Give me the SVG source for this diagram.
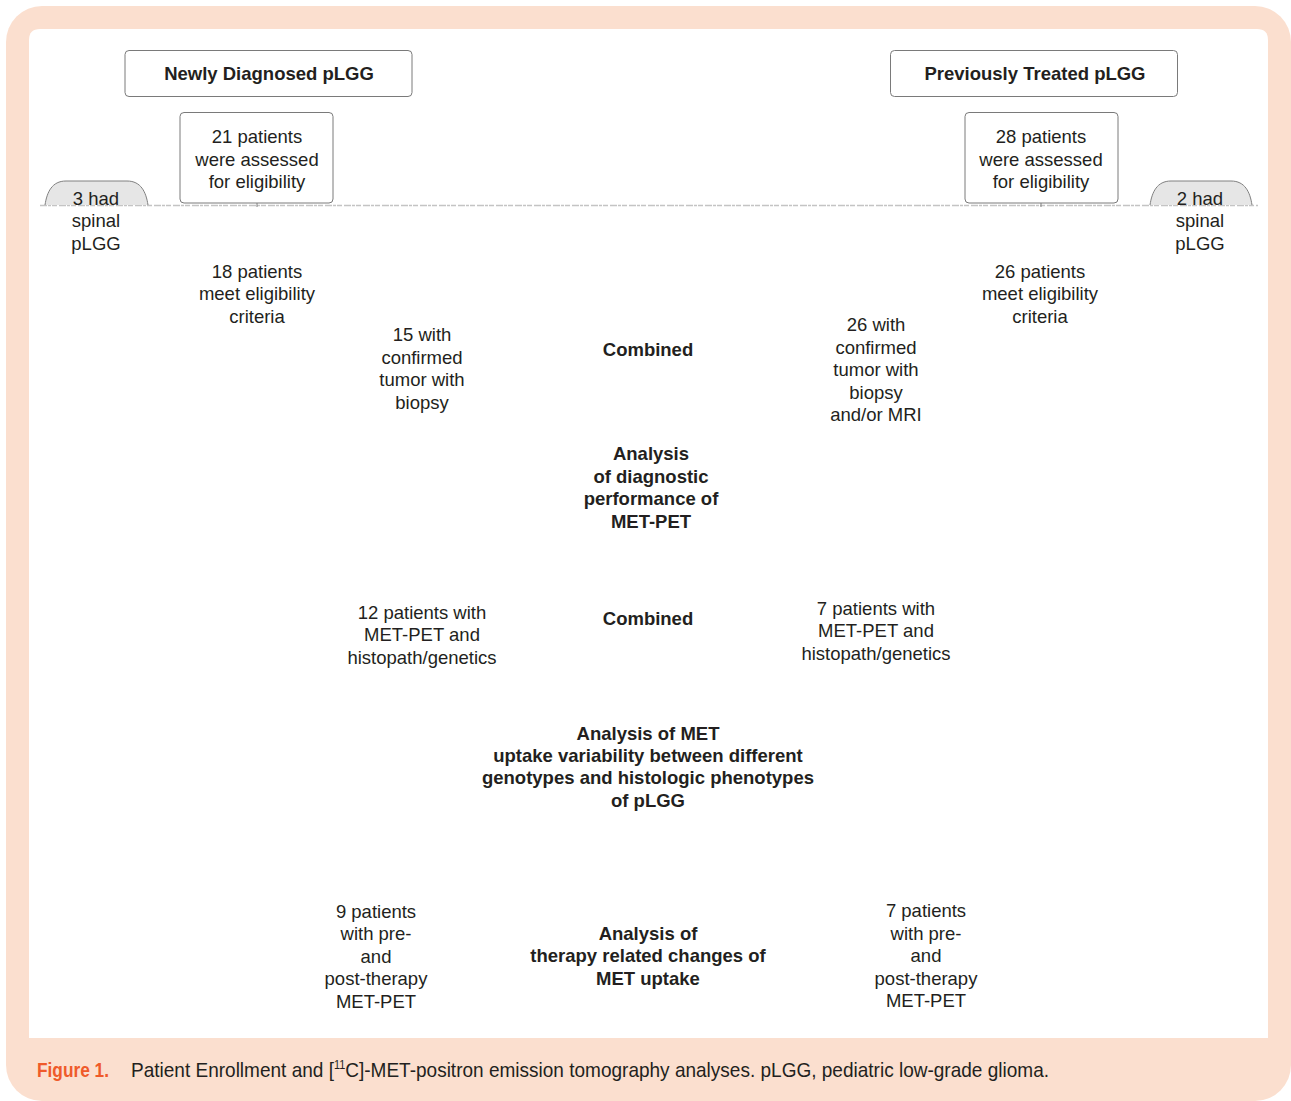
<svg xmlns="http://www.w3.org/2000/svg" width="1291" height="1101" viewBox="0 0 1291 1101">
<style>
.box{fill:#fff;stroke:#7a7a7a;stroke-width:1}
.spinal{fill:#e6e6e6;stroke:#808080;stroke-width:1}
.t{font-family:"Liberation Sans",Arial,sans-serif;font-size:18.5px;fill:#231f20;text-anchor:middle}
.b{font-weight:bold}
.cap{font-family:"Liberation Sans Narrow","Liberation Sans",Arial,sans-serif;font-size:21px;fill:#231f20}
.fig{font-family:"Liberation Sans Narrow","Liberation Sans",Arial,sans-serif;font-size:21px;font-weight:bold;fill:#ef5a2a}
</style>
<rect x="6" y="6" width="1285" height="1095" rx="36" fill="#fbdfcf"/>
<path d="M29,1038 L29,40 Q29,29 40,29 L1257,29 Q1268,29 1268,40 L1268,1038 Z" fill="#fff"/>
<g id="connectors">
<line x1="40" y1="205.5" x2="1258" y2="205.5" stroke="#c4c4c4" stroke-width="1.5" stroke-dasharray="7 1 3 1 5 2"/>
<line x1="257" y1="203" x2="257" y2="207" stroke="#808080" stroke-width="1"/>
<line x1="1041" y1="203" x2="1041" y2="207" stroke="#808080" stroke-width="1"/>
</g>
<g id="newly">
<rect class="box" x="125" y="50.5" width="287" height="46" rx="4"/>
<text class="t b" x="269" y="80">Newly Diagnosed pLGG</text>
</g>
<g id="previously">
<rect class="box" x="890.5" y="50.5" width="287" height="46" rx="4"/>
<text class="t b" x="1035" y="80">Previously Treated pLGG</text>
</g>
<g id="assessed21">
<rect class="box" x="180" y="112.5" width="153" height="90.5" rx="4"/>
<text class="t" x="257" y="143">21 patients</text>
<text class="t" x="257" y="166">were assessed</text>
<text class="t" x="257" y="188">for eligibility</text>
</g>
<g id="assessed28">
<rect class="box" x="965" y="112.5" width="153" height="90.5" rx="4"/>
<text class="t" x="1041" y="143">28 patients</text>
<text class="t" x="1041" y="166">were assessed</text>
<text class="t" x="1041" y="188">for eligibility</text>
</g>
<g id="spinal3">
<path class="spinal" d="M45,205 C47,192 52,181 66,181 L127,181 C141,181 146,192 148,205"/>
<text class="t" x="96" y="205">3 had</text>
<text class="t" x="96" y="227">spinal</text>
<text class="t" x="96" y="250">pLGG</text>
</g>
<g id="spinal2">
<path class="spinal" d="M1150,205 C1152,192 1157,181 1171,181 L1231,181 C1245,181 1250,192 1252,205"/>
<text class="t" x="1200" y="205">2 had</text>
<text class="t" x="1200" y="227">spinal</text>
<text class="t" x="1200" y="250">pLGG</text>
</g>
<g id="eligible18">
<text class="t" x="257" y="278">18 patients</text>
<text class="t" x="257" y="300">meet eligibility</text>
<text class="t" x="257" y="323">criteria</text>
</g>
<g id="eligible26">
<text class="t" x="1040" y="278">26 patients</text>
<text class="t" x="1040" y="300">meet eligibility</text>
<text class="t" x="1040" y="323">criteria</text>
</g>
<g id="confirmed15">
<text class="t" x="422" y="341">15 with</text>
<text class="t" x="422" y="364">confirmed</text>
<text class="t" x="422" y="386">tumor with</text>
<text class="t" x="422" y="409">biopsy</text>
</g>
<g id="combined1">
<text class="t b" x="648" y="356">Combined</text>
</g>
<g id="confirmed26">
<text class="t" x="876" y="331">26 with</text>
<text class="t" x="876" y="354">confirmed</text>
<text class="t" x="876" y="376">tumor with</text>
<text class="t" x="876" y="399">biopsy</text>
<text class="t" x="876" y="421">and/or MRI</text>
</g>
<g id="diagnostic">
<text class="t b" x="651" y="460">Analysis</text>
<text class="t b" x="651" y="483">of diagnostic</text>
<text class="t b" x="651" y="505">performance of</text>
<text class="t b" x="651" y="528">MET-PET</text>
</g>
<g id="histo12">
<text class="t" x="422" y="619">12 patients with</text>
<text class="t" x="422" y="641">MET-PET and</text>
<text class="t" x="422" y="664">histopath/genetics</text>
</g>
<g id="combined2">
<text class="t b" x="648" y="625">Combined</text>
</g>
<g id="histo7">
<text class="t" x="876" y="615">7 patients with</text>
<text class="t" x="876" y="637">MET-PET and</text>
<text class="t" x="876" y="660">histopath/genetics</text>
</g>
<g id="uptake">
<text class="t b" x="648" y="740">Analysis of MET</text>
<text class="t b" x="648" y="762">uptake variability between different</text>
<text class="t b" x="648" y="784">genotypes and histologic phenotypes</text>
<text class="t b" x="648" y="807">of pLGG</text>
</g>
<g id="prepost9">
<text class="t" x="376" y="918">9 patients</text>
<text class="t" x="376" y="940">with pre-</text>
<text class="t" x="376" y="963">and</text>
<text class="t" x="376" y="985">post-therapy</text>
<text class="t" x="376" y="1008">MET-PET</text>
</g>
<g id="therapy">
<text class="t b" x="648" y="940">Analysis of</text>
<text class="t b" x="648" y="962">therapy related changes of</text>
<text class="t b" x="648" y="985">MET uptake</text>
</g>
<g id="prepost7">
<text class="t" x="926" y="917">7 patients</text>
<text class="t" x="926" y="940">with pre-</text>
<text class="t" x="926" y="962">and</text>
<text class="t" x="926" y="985">post-therapy</text>
<text class="t" x="926" y="1007">MET-PET</text>
</g>
<g id="caption">
<text class="fig" x="37" y="1077" textLength="72" lengthAdjust="spacingAndGlyphs">Figure 1.</text>
<text class="cap" x="131" y="1077" textLength="918" lengthAdjust="spacingAndGlyphs">Patient Enrollment and [<tspan font-size="12" dy="-8">11</tspan><tspan dy="8">C]-MET-positron emission tomography analyses. pLGG, pediatric low-grade glioma.</tspan></text>
</g>
</svg>
